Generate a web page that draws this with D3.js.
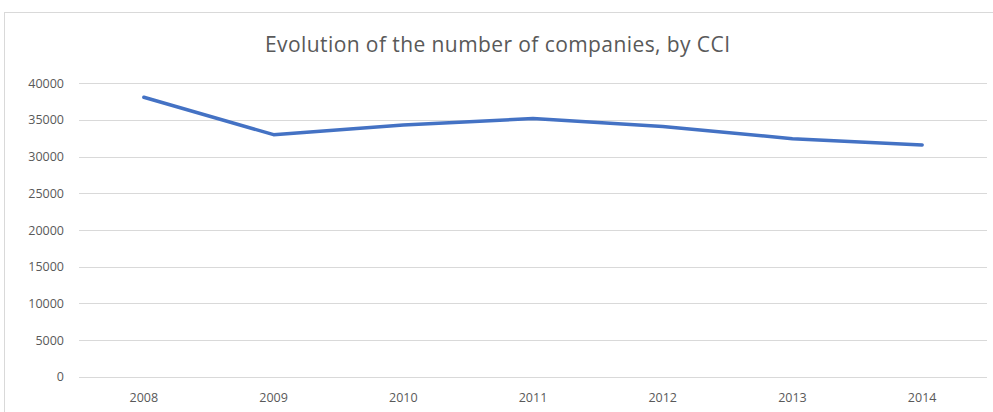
<!DOCTYPE html>
<html><head><meta charset="utf-8">
<script src="https://cdn.jsdelivr.net/npm/d3@7"></script>
<style>body{margin:0;background:#fff;}svg{display:block;}</style>
</head><body>
<script>
const years = ["2008","2009","2010","2011","2012","2013","2014"];
const companies = [38100, 33000, 34300, 35200, 34100, 32450, 31600];
const yTicks = [0,5000,10000,15000,20000,25000,30000,35000,40000];
const title = "Evolution of the number of companies, by CCI";

const W = 993, H = 412;
const svg = d3.select("body").append("svg").attr("width", W).attr("height", H);
svg.append("rect").attr("x",0).attr("y",0).attr("width",W).attr("height",H).attr("fill","#fff");
svg.append("rect").attr("x",4.5).attr("y",12.5).attr("width",W+10).attr("height",H+10)
  .attr("fill","none").attr("stroke","#d9d9d9").attr("stroke-width",1);

const x = d3.scaleBand().domain(years).range([79, 987]);
const y = d3.scaleLinear().domain([0, 40000]).range([376.7, 83.3]);

svg.append("text").attr("x", 265).attr("y", 51.5)
  .attr("font-family","Open Sans, sans-serif").attr("font-size", 21).attr("fill","#595959")
  .attr("textLength", 465).attr("lengthAdjust","spacing")
  .text(title);

const g = svg.append("g");
g.selectAll("line.grid").data(yTicks).enter().append("line")
  .attr("x1", 79).attr("x2", 987)
  .attr("y1", d => Math.round(y(d))+0.5).attr("y2", d => Math.round(y(d))+0.5)
  .attr("stroke","#d9d9d9").attr("stroke-width",1);

g.selectAll("text.yt").data(yTicks).enter().append("text")
  .attr("x", 64).attr("y", d => y(d)+4.5).attr("text-anchor","end")
  .attr("font-family","Open Sans, sans-serif").attr("font-size",12.5).attr("fill","#595959")
  .text(d => d);

g.selectAll("text.xt").data(years).enter().append("text")
  .attr("x", d => x(d)+x.bandwidth()/2).attr("y", 402).attr("text-anchor","middle")
  .attr("font-family","Open Sans, sans-serif").attr("font-size",12.5).attr("fill","#595959")
  .text(d => d);

const line = d3.line().x((d,i) => x(years[i]) + x.bandwidth()/2).y(d => y(d));
g.append("path").datum(companies).attr("d", line).attr("fill","none")
  .attr("stroke","#4472C4").attr("stroke-width",3.5).attr("stroke-linecap","round").attr("stroke-linejoin","round");
</script>
</body></html>
